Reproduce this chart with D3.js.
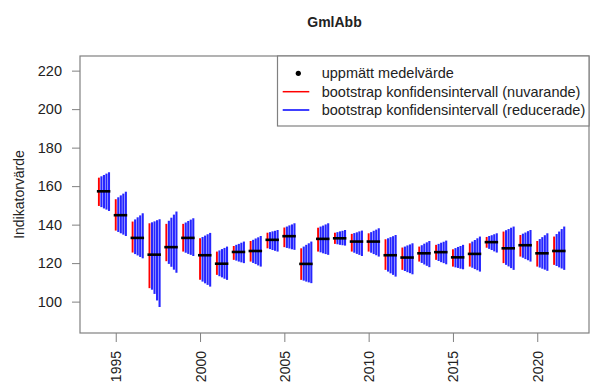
<!DOCTYPE html>
<html>
<head>
<meta charset="utf-8">
<script src="https://cdn.jsdelivr.net/npm/d3@7"></script>
<style>
  html, body { margin: 0; padding: 0; background: #fff; }
  svg { display: block; font-family: "Liberation Sans", Arial, sans-serif; }
</style>
</head>
<body>
<svg id="chart" width="594" height="388"></svg>
<script>
// Annual indicator values with bootstrap confidence intervals
const years = [1994, 1995, 1996, 1997, 1998, 1999, 2000, 2001, 2002, 2003, 2004, 2005, 2006, 2007,
               2008, 2009, 2010, 2011, 2012, 2013, 2014, 2015, 2016, 2017, 2018, 2019, 2020, 2021];
const meanValue = [157.3, 144.9, 133.1, 124.4, 128.3, 133.1, 124.1, 119.7, 125.8, 126.3, 132.1, 134.0, 119.6, 132.6,
                   132.9, 131.2, 131.2, 124.1, 122.9, 125.1, 125.7, 123.0, 124.8, 130.9, 127.7, 129.3, 125.1, 126.3];

// Current bootstrap interval
const redLo = [149.7, 136.9, 125.5, 107.0, 121.0, 126.0, 111.3, 113.9, 121.7, 120.8, 127.7, 128.3, 111.3, 126.0,
               130.0, 126.0, 126.0, 116.5, 116.5, 120.8, 121.7, 118.2, 118.2, 128.0, 120.0, 123.4, 118.2, 119.1];
const redHi = [164.4, 153.2, 141.6, 140.7, 140.4, 140.4, 132.9, 126.0, 128.9, 131.5, 135.8, 138.5, 127.7, 138.4,
               135.8, 135.2, 135.5, 132.4, 128.1, 128.6, 129.5, 127.2, 130.3, 133.6, 136.4, 134.6, 131.5, 133.8];

// Reduced-sample bootstrap intervals, four reduction levels
const blueLo1 = [149.1, 136.2, 124.7, 106.2, 119.6, 125.4, 110.4, 113.2, 121.3, 120.1, 127.3, 127.9, 110.9, 125.6,
                 129.8, 125.4, 125.4, 115.6, 115.9, 120.1, 121.1, 117.8, 117.6, 127.4, 119.1, 122.8, 117.7, 118.5];
const blueHi1 = [165.1, 154.2, 142.7, 141.2, 142.0, 141.1, 133.6, 126.6, 129.5, 132.1, 136.1, 139.0, 128.6, 139.0,
                 136.1, 135.6, 136.1, 132.9, 128.6, 129.3, 130.0, 127.8, 131.2, 134.1, 137.1, 135.3, 132.5, 135.1];
const blueLo2 = [148.4, 135.5, 124.0, 104.0, 118.1, 124.8, 109.5, 112.6, 120.8, 119.5, 126.8, 127.6, 110.4, 125.1,
                 129.5, 124.8, 124.7, 114.7, 115.3, 119.3, 120.5, 117.5, 116.9, 126.8, 118.3, 122.1, 117.1, 117.8];
const blueHi2 = [165.8, 155.2, 143.8, 141.7, 143.6, 141.9, 134.3, 127.3, 130.0, 132.8, 136.5, 139.6, 129.5, 139.5,
                 136.5, 136.0, 136.8, 133.5, 129.2, 130.1, 130.6, 128.4, 132.0, 134.5, 137.7, 135.9, 133.5, 136.4];
const blueLo3 = [147.8, 134.8, 123.2, 100.6, 116.6, 124.3, 108.7, 111.9, 120.4, 118.8, 126.4, 127.2, 110.0, 124.7,
                 129.3, 124.3, 124.1, 113.9, 114.8, 118.6, 120.0, 117.1, 116.3, 126.1, 117.4, 121.5, 116.6, 117.2];
const blueHi3 = [166.5, 156.1, 144.8, 142.3, 145.2, 142.6, 135.0, 127.9, 130.6, 133.4, 136.8, 140.1, 130.3, 140.1,
                 136.8, 136.5, 137.4, 134.0, 129.7, 130.8, 131.1, 128.9, 132.9, 135.0, 138.4, 136.6, 134.5, 137.7];
const blueLo4 = [147.1, 134.1, 122.5, 97.2, 115.0, 123.7, 107.8, 111.3, 120.0, 118.2, 126.0, 126.9, 109.6, 124.3,
                 129.1, 123.7, 123.4, 113.0, 114.2, 117.9, 119.4, 116.8, 115.6, 125.5, 116.5, 120.8, 116.0, 116.5];
const blueHi4 = [167.2, 157.1, 145.9, 142.8, 146.8, 143.3, 135.7, 128.6, 131.2, 134.1, 137.2, 140.7, 131.2, 140.7,
                 137.2, 136.9, 138.1, 134.6, 130.3, 131.5, 131.7, 129.5, 133.8, 135.5, 139.0, 137.2, 135.5, 139.0];

const yTicks = [100, 120, 140, 160, 180, 200, 220];
const xTicks = [1995, 2000, 2005, 2010, 2015, 2020];
const legendLabels = ["uppmätt medelvärde",
                      "bootstrap konfidensintervall (nuvarande)",
                      "bootstrap konfidensintervall (reducerade)"];

const blueLevels = [
  {offset: 0.15, lo: blueLo1, hi: blueHi1},
  {offset: 0.30, lo: blueLo2, hi: blueHi2},
  {offset: 0.45, lo: blueLo3, hi: blueHi3},
  {offset: 0.60, lo: blueLo4, hi: blueHi4}
];

const svg = d3.select("#chart");
const plot = {left: 80, right: 589, top: 56, bottom: 333};
const frameColor = "#808080";
const textColor = "#222";

const x = d3.scaleLinear().domain([1992.88, 2023.07]).range([plot.left, plot.right]);
const y = d3.scaleLinear().domain([83.7, 227.6]).range([plot.bottom, plot.top]);

// Title
svg.append("text")
  .attr("x", (plot.left + plot.right) / 2)
  .attr("y", 27)
  .attr("text-anchor", "middle")
  .attr("font-size", 14)
  .attr("font-weight", "bold")
  .attr("fill", textColor)
  .text("GmlAbb");

// Y axis
const yAxis = svg.append("g")
  .attr("transform", `translate(${plot.left},0)`)
  .call(d3.axisLeft(y).tickValues(yTicks).tickSize(8).tickPadding(10));
yAxis.select(".domain").remove();
yAxis.selectAll(".tick line").attr("stroke", frameColor);
yAxis.selectAll(".tick text")
  .attr("font-size", 14.5)
  .attr("fill", textColor)
  .attr("font-family", "Liberation Sans, Arial, sans-serif");

// X axis with vertical labels
const xAxis = svg.append("g")
  .attr("transform", `translate(0,${plot.bottom})`)
  .call(d3.axisBottom(x).tickValues(xTicks).tickFormat(d3.format("d")).tickSize(9));
xAxis.select(".domain").remove();
xAxis.selectAll(".tick line").attr("stroke", frameColor);
xAxis.selectAll(".tick text")
  .attr("font-size", 14)
  .attr("fill", textColor)
  .attr("font-family", "Liberation Sans, Arial, sans-serif")
  .attr("transform", "rotate(-90)")
  .attr("text-anchor", "end")
  .attr("x", -18)
  .attr("y", 0)
  .attr("dy", "0.36em");

// Y axis title
svg.append("text")
  .attr("transform", `translate(24,${(plot.top + plot.bottom) / 2}) rotate(-90)`)
  .attr("text-anchor", "middle")
  .attr("font-size", 14)
  .attr("fill", textColor)
  .text("Indikatorvärde");

// Interval bars
const groups = svg.append("g").selectAll("g")
  .data(years.map((yr, i) => ({yr, i})))
  .join("g");

groups.append("line")
  .attr("x1", d => x(d.yr)).attr("x2", d => x(d.yr))
  .attr("y1", d => y(redLo[d.i])).attr("y2", d => y(redHi[d.i]))
  .attr("stroke", "#ff0000")
  .attr("stroke-width", 1.9);

blueLevels.forEach(level => {
  groups.append("line")
    .attr("x1", d => x(d.yr + level.offset)).attr("x2", d => x(d.yr + level.offset))
    .attr("y1", d => y(level.lo[d.i])).attr("y2", d => y(level.hi[d.i]))
    .attr("stroke", "#2626ff")
    .attr("stroke-width", 2.1);
});

// Measured mean
groups.append("line")
  .attr("x1", d => x(d.yr - 0.12)).attr("x2", d => x(d.yr + 0.68))
  .attr("y1", d => y(meanValue[d.i])).attr("y2", d => y(meanValue[d.i]))
  .attr("stroke", "#000")
  .attr("stroke-width", 2.6);

// Plot frame
svg.append("rect")
  .attr("x", plot.left).attr("y", plot.top)
  .attr("width", plot.right - plot.left).attr("height", plot.bottom - plot.top)
  .attr("fill", "none")
  .attr("stroke", frameColor)
  .attr("stroke-width", 1.2);

// Legend
const legend = svg.append("g");
legend.append("rect")
  .attr("x", 277.5).attr("y", plot.top)
  .attr("width", plot.right - 277.5).attr("height", 70)
  .attr("fill", "#fff")
  .attr("stroke", frameColor)
  .attr("stroke-width", 1.2);

const rowY = [73.3, 91.7, 110];
legend.append("circle")
  .attr("cx", 298.3).attr("cy", rowY[0]).attr("r", 2.6)
  .attr("fill", "#000");
legend.append("line")
  .attr("x1", 282.7).attr("x2", 309.3).attr("y1", rowY[1]).attr("y2", rowY[1])
  .attr("stroke", "#ff0000").attr("stroke-width", 1.5);
legend.append("line")
  .attr("x1", 282.7).attr("x2", 309.3).attr("y1", rowY[2]).attr("y2", rowY[2])
  .attr("stroke", "#0000ff").attr("stroke-width", 1.5);

legend.selectAll("text.lbl")
  .data(legendLabels)
  .join("text")
  .attr("class", "lbl")
  .attr("x", 321.7)
  .attr("y", (d, i) => rowY[i] + 5)
  .attr("font-size", 14.5)
  .attr("fill", textColor)
  .text(d => d);
</script>
</body>
</html>
